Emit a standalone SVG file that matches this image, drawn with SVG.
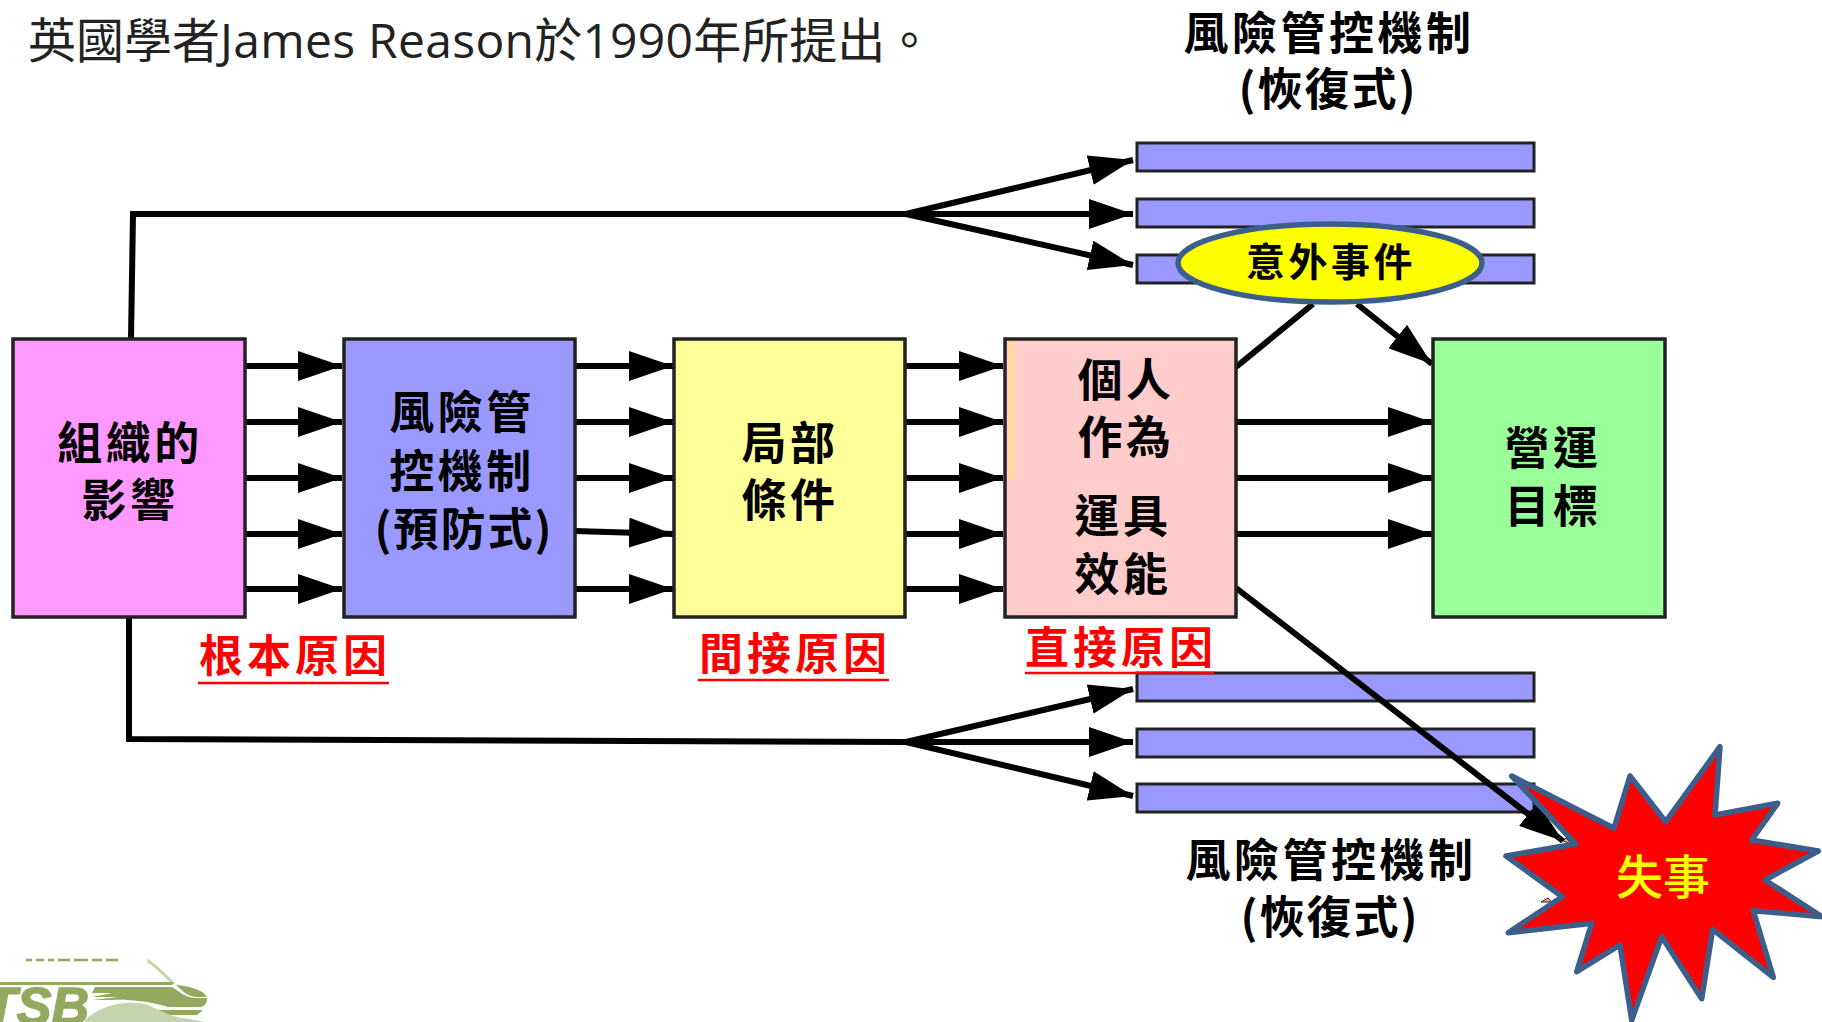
<svg xmlns="http://www.w3.org/2000/svg" width="1822" height="1022" viewBox="0 0 1822 1022">
<style>
text{font-family:"Noto Sans CJK TC","Noto Sans CJK SC",sans-serif;dominant-baseline:central;text-anchor:middle}
.b{stroke:#222;stroke-width:3.5}
.t{font-size:45px;font-weight:700;fill:#000;letter-spacing:3.5px}
.p{letter-spacing:2px}
.r{font-size:44px;font-weight:700;fill:#f00;letter-spacing:4px}
.u{stroke:#f00;stroke-width:2.5;fill:none}
.c{fill:none;stroke:#000;stroke-width:6}
.a{marker-end:url(#h)}
.bar{fill:#99f;stroke:#222;stroke-width:3}
.o{stroke:#3b5f8a;stroke-width:5.5;stroke-linejoin:round}
.g{fill:#93a960}
.l{fill:#c5d4ac}
</style>
<defs>
<marker id="h" markerUnits="userSpaceOnUse" markerWidth="46" markerHeight="30" refX="44" refY="15" orient="auto"><path d="M0 0L44 15L0 30Z" fill="#000"/></marker>
</defs>
<rect width="1822" height="1022" fill="#fff"/>
<text id="title" x="28" y="39" style="text-anchor:start;font-family:'Open Sans','Noto Sans CJK TC',sans-serif;font-weight:400;font-size:48px" fill="#222">英國學者<tspan letter-spacing="0.3">James Reason</tspan>於<tspan letter-spacing="0.3">1990</tspan>年所提出。</text>
<g id="bars-top">
<rect class="bar" x="1137" y="143" width="397" height="28"/>
<rect class="bar" x="1137" y="199" width="397" height="28"/>
<rect class="bar" x="1137" y="255" width="397" height="28"/>
</g>
<g id="bars-bottom">
<rect class="bar" x="1137" y="673" width="397" height="28"/>
<rect class="bar" x="1137" y="729" width="397" height="28"/>
<rect class="bar" x="1137" y="784" width="397" height="28"/>
</g>
<g id="connectors">
<path class="c" d="M131 339L133 214H906"/>
<path class="c a" d="M906 214L1133 160"/>
<path class="c a" d="M906 214H1133"/>
<path class="c a" d="M906 214L1133 265"/>
<path class="c" d="M129 617V739L906 742"/>
<path class="c a" d="M906 742L1133 689"/>
<path class="c a" d="M906 742H1133"/>
<path class="c a" d="M906 742L1133 796"/>
<path class="c a" d="M243 366H342"/><path class="c a" d="M243 422H342"/><path class="c a" d="M243 478H342"/><path class="c a" d="M243 534H342"/><path class="c a" d="M243 589H342"/>
<path class="c a" d="M575 366H673"/><path class="c a" d="M575 422H673"/><path class="c a" d="M575 478H673"/><path class="c a" d="M575 531L673 534"/><path class="c a" d="M575 589H673"/>
<path class="c a" d="M905 366H1003"/><path class="c a" d="M905 422H1003"/><path class="c a" d="M905 478H1003"/><path class="c a" d="M905 534H1003"/><path class="c a" d="M905 589H1003"/>
<path class="c a" d="M1236 422H1432"/><path class="c a" d="M1236 478H1432"/><path class="c a" d="M1236 534H1432"/>
<path class="c" d="M1236 367L1313 304"/>
<path class="c a" d="M1357 304L1432 364"/>
<path class="c a" d="M1236 588L1563 841"/>
</g>
<g id="n-org"><rect class="b" x="13" y="339" width="232" height="278" fill="#f9f"/><text class="t" x="130" y="440">組織的</text><text class="t" x="130" y="497">影響</text></g>
<g id="n-prevent"><rect class="b" x="344" y="339" width="231" height="278" fill="#99f"/><text class="t" x="462" y="409">風險管</text><text class="t" x="462" y="468">控機制</text><text class="t p" x="464" y="526">(預防式)</text></g>
<g id="n-local"><rect class="b" x="674" y="339" width="231" height="278" fill="#ff9"/><text class="t" x="790" y="440">局部</text><text class="t" x="790" y="497">條件</text></g>
<g id="n-direct"><rect class="b" x="1005" y="339" width="231" height="278" fill="#fcc"/><rect x="1008" y="341" width="7" height="137" fill="#ffd9a0"/><text class="t" x="1126" y="377">個人</text><text class="t" x="1126" y="434">作為</text><text class="t" x="1123" y="513">運具</text><text class="t" x="1123" y="571">效能</text></g>
<g id="n-goal"><rect class="b" x="1433" y="339" width="232" height="278" fill="#9f9"/><text class="t" x="1553" y="445">營運</text><text class="t" x="1553" y="503">目標</text></g>
<g id="n-event"><ellipse class="o" cx="1330" cy="263" rx="152" ry="39" fill="#ff0"/><text x="1331" y="259" style="font-size:39px;font-weight:700;letter-spacing:3.5px">意外事件</text></g>
<g id="n-accident"><path d="M1548 898L1541 902L1552 902ZM1563 841L1572 844L1566 838Z" fill="#f99" stroke="#222" stroke-width="1"/><path class="o" fill="#f00" d="M1511.7 776L1614 828.3L1630 776L1665.7 821.7L1720 746.7L1715 815L1777.7 803.3L1751.7 840L1818.3 851L1765 880L1822 916.7L1753.3 910.7L1773.3 977.3L1712.7 929.3L1701.7 998.7L1661.7 936.7L1631.7 1020L1620 945L1576.7 971.7L1591.7 923.3L1508.3 932.7L1562.3 896.7L1506 856L1575.7 844Z"/><text x="1663" y="873" style="font-size:47px;font-weight:500;fill:#ff0">失事</text></g>
<g id="labels">
<text class="t" x="1329" y="30">風險管控機制</text><text class="t p" x="1328" y="86">(恢復式)</text>
<text class="t" x="1331" y="857">風險管控機制</text><text class="t p" x="1330" y="914">(恢復式)</text>
<text class="r" x="295" y="653">根本原因</text><path class="u" d="M198 683H389"/>
<text class="r" x="795" y="651">間接原因</text><path class="u" d="M698 680H889"/>
<text class="r" x="1121" y="645">直接原因</text><path class="u" d="M1025 673H1214"/>
</g>
<g id="logo">
<path d="M26 960h6M36 960h8M48 960h6M58 960h12M74 960h14M92 960h10M106 960h12" stroke="#93a960" stroke-width="2.5" fill="none"/>
<path d="M147 960C156 966 166 976 174 984" stroke="#c5d4ac" stroke-width="3" fill="none"/>
<path class="g" d="M0 982H173L172 985H0Z"/>
<path class="g" d="M95 987H172C180 992 186 998 196 998H207C207 1003 205 1006 201 1007H168C150 1001 125 999 112 1000H92L118 997H92L112 993H92Z"/>
<path class="g" d="M176 985C190 986 203 990 207 997H197C187 997 182 990 176 985Z"/>
<path class="l" d="M85 1020C100 1006 125 999 148 1005C162 1011 172 1018 190 1019L205 1022H85Z"/>
<path class="g" d="M158 1010H203L197 1015H170Z"/>
<text x="37" y="1006" style="font-family:'Liberation Sans',sans-serif;font-weight:700;font-style:italic;font-size:52px;fill:#93a960;stroke:#93a960;stroke-width:1.5">TSB</text>
</g>
</svg>
